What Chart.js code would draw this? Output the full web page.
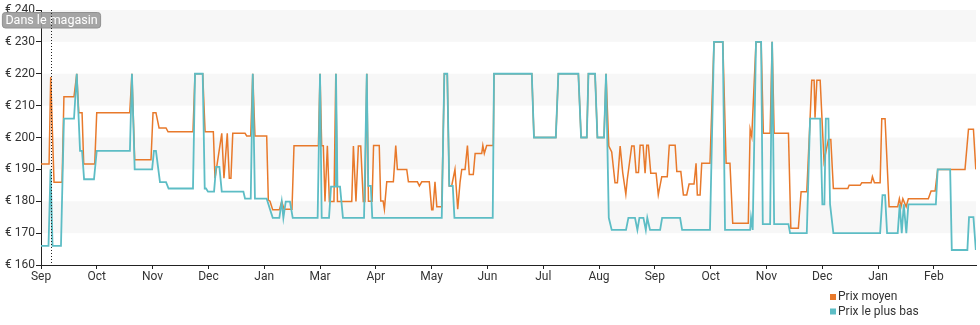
<!DOCTYPE html>
<html lang="fr">
<head>
<meta charset="utf-8">
<script src="https://cdn.jsdelivr.net/npm/chart.js@4.4.1/dist/chart.umd.min.js"></script>
<style>
  html, body { margin: 0; padding: 0; background: #fff; }
  #wrap { width: 980px; height: 325px; position: relative; }
</style>
</head>
<body>
<div id="wrap"><canvas id="prixChart"></canvas></div>
<script>
(() => {
  'use strict'

  // axe des x : jours depuis le 1er septembre
  const monthLabels = ['Sep', 'Oct', 'Nov', 'Dec', 'Jan', 'Mar', 'Apr', 'May', 'Jun',
    'Jul', 'Aug', 'Sep', 'Oct', 'Nov', 'Dec', 'Jan', 'Feb']
  const monthStep = 30.4375
  const lastDay = 510
  const storeDay = 5.7 // arrivée dans le magasin

  const priceTicks = [160, 170, 180, 190, 200, 210, 220, 230, 240]

  // Prix moyen
  const avgDays = [0, 4.4, 5.3, 7.1, 11.5, 12.5, 18.0, 19.5, 20.6, 22.4, 23.3, 29.3, 30.4, 48.4, 49.6, 51.1,
    60.0, 61.1, 62.7, 64.4, 68.2, 69.3, 82.9, 84.0, 88.2, 89.5, 94.0, 94.9, 98.6, 99.8, 101.6, 102.7,
    103.6, 104.6, 111.3, 112.2, 114.4, 115.5, 116.7, 123.1, 124.0, 124.9, 126.4, 130.0, 131.3, 132.6,
    136.9, 138.0, 151.3, 152.2, 153.1, 154.0, 154.9, 156.2, 157.3, 159.8, 160.8, 161.7, 169.5, 170.4,
    171.8, 173.1, 174.4, 175.8, 176.7, 177.7, 178.6, 180.6, 181.4, 184.5, 185.3, 186.6, 187.3, 188.6,
    192.2, 193.5, 194.4, 199.5, 200.4, 205.3, 206.4, 207.7, 211.8, 213.1, 213.8, 214.9, 215.9, 218.6,
    220.0, 221.6, 222.7, 224.0, 225.8, 227.3, 228.6, 229.5, 231.3, 232.6, 233.6, 235.8, 236.8, 240.4,
    241.0, 241.8, 243.1, 246.7, 247.1, 267.7, 268.9, 280.8, 282.2, 293.1, 294.6, 297.7, 298.6, 302.2,
    303.5, 307.1, 308.2, 309.7, 311.3, 313.1, 314.4, 315.9, 317.3, 319.0, 319.8, 322.2, 323.5, 324.6,
    325.9, 326.8, 328.4, 329.5, 330.4, 331.3, 332.6, 335.5, 336.7, 338.6, 341.6, 342.7, 345.9, 346.8,
    349.0, 350.4, 352.2, 353.5, 356.2, 357.3, 358.0, 359.5, 360.4, 364.9, 367.1, 371.9, 373.7, 375.8,
    377.3, 385.8, 386.8, 387.7, 390.0, 392.8, 394.0, 397.7, 398.8, 399.9, 407.7, 409.0, 413.1, 414.6,
    417.7, 419.5, 420.4, 421.7, 422.2, 423.2, 425.0, 427.1, 429.5, 430.8, 432.2, 440.1, 440.8, 446.8,
    447.7, 452.8, 453.5, 454.6, 457.7, 458.6, 460.4, 462.6, 467.3, 468.2, 469.1, 470.1, 471.9, 473.1,
    484.0, 485.5, 487.7, 489.1, 504.0, 505.9, 508.6, 509.9]
  const avgPrices = [191.7, 191.7, 219, 186, 186, 212.8, 212.8, 220, 207.8, 207.8, 191.7, 191.7, 207.8, 207.8, 220, 193,
    193, 207.8, 207.8, 203, 203, 201.8, 201.8, 220, 220, 201.8, 201.8, 187.2, 201.3, 187.2, 201.3, 187.2,
    187.2, 201.3, 201.3, 200.5, 200.5, 220, 200.5, 200.5, 180.4, 180, 177.3, 177.3, 179.9, 177.5,
    177.5, 197.4, 197.4, 220, 197.4, 197.4, 179.9, 197.4, 179.9, 179.9, 220, 179.9, 179.9, 197.3,
    179.9, 197.3, 197.3, 179.9, 179.9, 220, 180, 180, 197.5, 197.5, 180.1, 180.1, 177.5, 186.1,
    186.1, 197.5, 190, 190, 186.1, 186.1, 184.8, 186.1, 186.1, 177.3, 177.3, 186.1, 178.3, 178.3,
    220, 220, 184.8, 184.8, 190, 177.5, 186.1, 190, 190, 197.5, 188.4, 188.4, 195, 195,
    197.5, 195, 197.5, 197.5, 220, 220, 200, 200, 220, 220, 200, 200, 220, 220,
    200, 200, 220, 197.3, 195.5, 185.8, 185.8, 197.3, 189, 182.2, 186.9, 197.3, 197.3, 189,
    189, 197.6, 197.6, 188.8, 197.6, 197.6, 188.8, 188.8, 182, 187.7, 187.7, 197.6, 197.6, 189.3,
    189.3, 182, 182, 185.4, 185.4, 191.9, 182, 182, 191.9, 191.9, 230, 230, 191.9, 191.9,
    173.1, 173.1, 202.6, 200.3, 230, 230, 201.3, 201.3, 230, 201.3, 201.3, 171.5, 171.5, 183,
    183, 205.9, 218, 218, 206.2, 218, 218, 192.6, 199.4, 199.4, 184, 184, 185, 185,
    185.8, 185.8, 187.7, 185.8, 185.8, 205.9, 205.9, 178.3, 178.3, 180.8, 178.3, 180.8, 178.3, 180.8,
    180.8, 183.2, 183.2, 190, 190, 202.6, 202.6, 190]

  // Prix le plus bas
  const lowDays = [0, 4.1, 5.2, 6.3, 10.9, 12.5, 18.0, 19.5, 21.3, 22.4, 23.5, 28.9, 30.4, 48.5, 49.6, 51.1,
    60.6, 61.6, 62.7, 64.9, 68.2, 69.6, 82.9, 84.0, 88.2, 89.3, 90.0, 91.1, 94.4, 95.5, 97.3, 98.6,
    110.4, 111.3, 114.4, 115.5, 116.7, 123.1, 124.9, 126.4, 130.0, 131.3, 132.2, 133.5, 135.8, 137.3,
    150.9, 152.2, 153.1, 157.1, 158.2, 160.4, 160.9, 161.7, 163.1, 164.7, 176.2, 177.7, 178.5, 179.9,
    180.7, 218.6, 220.0, 221.6, 222.7, 224.6, 225.5, 246.4, 247.1, 267.7, 268.9, 280.8, 282.2, 293.1,
    294.6, 297.7, 298.6, 302.2, 303.5, 307.1, 308.2, 309.7, 311.3, 319.1, 320.4, 324.0, 325.3, 326.4,
    328.6, 329.9, 330.7, 332.2, 337.7, 338.8, 348.6, 349.7, 364.9, 367.1, 371.9, 373.1, 386.8, 387.3,
    388.2, 390.0, 392.8, 393.7, 397.7, 398.8, 399.9, 407.7, 408.6, 417.7, 419.5, 425.0, 426.2, 427.3,
    428.1, 429.5, 430.4, 432.2, 457.7, 459.0, 460.4, 461.5, 467.3, 468.4, 469.5, 470.6, 472.0, 473.1,
    488.1, 489.1, 495.9, 496.8, 505.3, 506.2, 508.6, 509.9]
  const lowPrices = [166, 166, 190, 166, 166, 205.9, 205.9, 220, 195.8, 195.8, 186.9, 186.9, 195.8, 195.8, 220, 190,
    190, 195.8, 195.8, 186, 186, 184, 184, 220, 220, 184, 184, 183, 183, 190.8, 190.8, 183,
    183, 180.8, 180.8, 220, 180.8, 180.8, 177.5, 174.8, 174.8, 179.9, 174.8, 179.9, 179.9, 174.8,
    174.8, 220, 174.8, 174.8, 184.6, 184.6, 220, 184.6, 184.6, 174.8, 174.8, 220, 184.8, 184.8,
    174.8, 174.8, 220, 220, 184.8, 184.8, 174.8, 174.8, 220, 220, 200, 200, 220, 220,
    200, 200, 220, 220, 200, 200, 220, 174.8, 171, 171, 174.8, 174.8, 171, 174.8,
    174.8, 171, 174.8, 171, 171, 174.8, 174.8, 171, 171, 230, 230, 171, 171, 174.8,
    171, 230, 230, 172.8, 172.8, 230, 172.8, 172.8, 170, 170, 205.9, 205.9, 179, 179,
    205.9, 205.9, 179, 170, 170, 181.9, 181.9, 170, 170, 179, 170, 179, 170, 179,
    179, 190, 190, 164.7, 164.7, 175, 175, 164.7]

  const toPoints = (days, prices) => days.map((d, i) => ({ x: d, y: prices[i] }))

  const FONT = 'Roboto, "Liberation Sans", sans-serif'
  const ORANGE = '#e8792b'
  const TEAL = '#5dbdc5'

  // bandes grises alternées derrière les courbes
  const bandes = {
    id: 'bandes',
    beforeDatasetsDraw (chart) {
      const { ctx, chartArea, scales } = chart
      ctx.save()
      ctx.fillStyle = '#f7f7f7'
      for (let i = 0; i < priceTicks.length - 1; i++) {
        if (i % 2 === 0) continue
        const yTop = scales.y.getPixelForValue(priceTicks[i + 1])
        const yBot = scales.y.getPixelForValue(priceTicks[i])
        ctx.fillRect(chartArea.left + 1, yTop, chartArea.right - chartArea.left - 1, yBot - yTop)
      }
      ctx.restore()
    }
  }

  // repère "Dans le magasin" + légende en bas à droite
  const reperes = {
    id: 'reperes',
    afterDraw (chart) {
      const { ctx, chartArea, scales } = chart
      const x = Math.round(scales.x.getPixelForValue(storeDay)) + 0.5
      ctx.save()
      ctx.font = '12.5px ' + FONT
      const txt = 'Dans le magasin'
      const w = ctx.measureText(txt).width + 6
      const bx = x - w / 2
      ctx.fillStyle = 'rgba(155,155,155,0.9)'
      ctx.strokeStyle = '#919191'
      ctx.beginPath()
      ctx.roundRect(bx, 12.5, w, 15.5, 3)
      ctx.fill()
      ctx.stroke()
      ctx.fillStyle = '#fff'
      ctx.textAlign = 'center'
      ctx.textBaseline = 'middle'
      ctx.fillText(txt, x, 20.5)

      ctx.strokeStyle = '#222'
      ctx.lineWidth = 1
      ctx.setLineDash([1, 2])
      ctx.beginPath()
      ctx.moveTo(x, chartArea.top)
      ctx.lineTo(x, chartArea.bottom)
      ctx.stroke()
      ctx.setLineDash([])

      // légende
      ctx.font = '12px ' + FONT
      ctx.textAlign = 'left'
      ctx.textBaseline = 'middle'
      const items = [chart.data.datasets[1], chart.data.datasets[0]]
      items.forEach((ds, i) => {
        const y = 297 + i * 14.5
        ctx.fillStyle = ds.borderColor
        ctx.fillRect(830, y - 3, 6, 6)
        ctx.fillStyle = '#333'
        ctx.fillText(ds.label, 838, y)
      })
      ctx.restore()
    }
  }

  const ctx = document.getElementById('prixChart')

  new Chart(ctx, {
    type: 'line',
    data: {
      datasets: [
        {
          label: 'Prix le plus bas',
          data: toPoints(lowDays, lowPrices),
          borderColor: TEAL,
          backgroundColor: TEAL,
          borderWidth: 1.8,
          order: 0
        },
        {
          label: 'Prix moyen',
          data: toPoints(avgDays, avgPrices),
          borderColor: ORANGE,
          backgroundColor: ORANGE,
          borderWidth: 1.5,
          order: 1
        }
      ]
    },
    options: {
      responsive: true,
      maintainAspectRatio: false,
      animation: false,
      elements: {
        point: { radius: 0, hoverRadius: 0 },
        line: { tension: 0 }
      },
      layout: { padding: { top: 10, right: 4, left: 0, bottom: 0 } },
      plugins: {
        legend: { display: false },
        tooltip: { enabled: false }
      },
      scales: {
        x: {
          type: 'linear',
          min: 0,
          max: lastDay,
          afterBuildTicks (scale) {
            scale.ticks = monthLabels.map((_, i) => ({ value: i * monthStep }))
          },
          afterFit (scale) { scale.height = 60 },
          border: { color: '#222', width: 1 },
          grid: { drawOnChartArea: false, tickLength: 4, color: '#222' },
          ticks: {
            autoSkip: false,
            maxRotation: 0,
            padding: 1,
            color: '#333',
            font: { family: FONT, size: 12 },
            callback: (value, index) => monthLabels[index]
          }
        },
        y: {
          min: 160,
          max: 240,
          afterFit (scale) { scale.width = 41 },
          border: { color: '#222', width: 1 },
          grid: { drawOnChartArea: false, tickLength: 5, color: '#222' },
          ticks: {
            stepSize: 10,
            padding: 1,
            color: '#333',
            font: { family: FONT, size: 12 },
            callback: (value) => '€ ' + value
          }
        }
      }
    },
    plugins: [bandes, reperes]
  })
})()
</script>
</body>
</html>
